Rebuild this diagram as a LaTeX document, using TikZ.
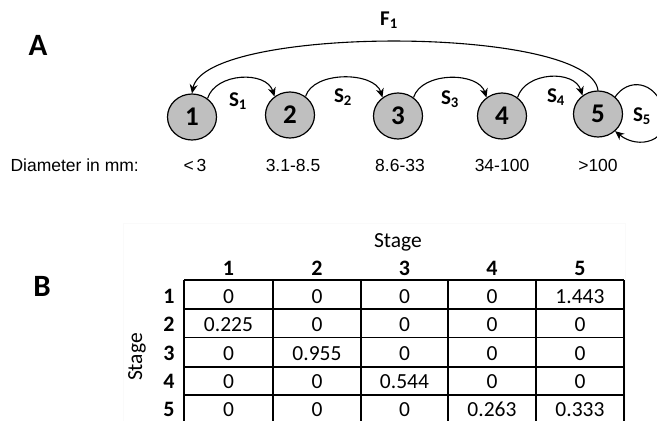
\documentclass[tikz,border=0pt]{standalone}
\usepackage{fontspec}
\setmainfont{Carlito}
\newfontfamily\arialf{Liberation Sans}
\usetikzlibrary{shapes.geometric,arrows.meta}
\tikzset{
  stagenode/.style={ellipse,draw=black,line width=1.2pt,fill=black!25,minimum width=49pt,minimum height=46pt,inner sep=0pt,font=\fontsize{27}{27}\selectfont\bfseries},
  arr/.style={line width=1.1pt,-{Stealth[length=9pt,width=8pt]}},
  slab/.style={font=\fontsize{21}{21}\selectfont\bfseries},
  diam/.style={font=\arialf\fontsize{17.5}{18}\selectfont},
  cell/.style={font=\fontsize{21.5}{22}\selectfont,anchor=base,inner sep=0pt},
  hdr/.style={font=\fontsize{22}{22}\selectfont\bfseries,anchor=base,inner sep=0pt},
  grid/.style={line width=1.4pt},
}
\begin{document}
\begin{tikzpicture}[x=1pt,y=-1pt]
\useasboundingbox (0,0) rectangle (657,421);
% panel A
\node[font=\fontsize{31}{31}\selectfont\bfseries] (lA) at (38,45) {A};
\node[stagenode] (n1) at (192,117) {1};
\node[stagenode] (n2) at (290,115) {2};
\node[stagenode] (n3) at (398,116) {3};
\node[stagenode] (n4) at (502,116) {4};
\node[stagenode] (n5) at (598,114) {5};
\draw[arr] (n1.50) .. controls +(8,-26) and +(-8,-26) .. (n2.130);
\draw[arr] (n2.50) .. controls +(8,-26) and +(-8,-26) .. (n3.130);
\draw[arr] (n3.50) .. controls +(8,-26) and +(-8,-26) .. (n4.130);
\draw[arr] (n4.50) .. controls +(8,-26) and +(-8,-26) .. (n5.130);
\draw[arr] (n5.north) .. controls (590,25) and (205,25) .. (n1.north);
\draw[arr] (n5.45) .. controls (628,78) and (655,80) .. (664,110) .. controls (672,142) and (638,150) .. (n5.-45);
\node[slab] (s1) at (238,101) {S$_{\mathbf 1}$};
\node[slab] (s2) at (343,97) {S$_{\mathbf 2}$};
\node[slab] (s3) at (450,99) {S$_{\mathbf 3}$};
\node[slab] (s4) at (556,97) {S$_{\mathbf 4}$};
\node[slab] (s5) at (642,116) {S$_{\mathbf 5}$};
\node[slab] (f1) at (389,20) {F$_{\mathbf 1}$};
\node[diam,anchor=west] (dlab) at (7,165) {Diameter in mm:};
\node[diam] (d1) at (195,165) {<\,3};
\node[diam] (d2) at (293,165) {3.1-8.5};
\node[diam] (d3) at (400,165) {8.6-33};
\node[diam] (d4) at (502,165) {34-100};
\node[diam] (d5) at (598,165) {>100};
% panel B
\node[font=\fontsize{31}{31}\selectfont\bfseries] (lB) at (42,286) {B};
\draw[black!2] (123,223) rectangle (625,440);
\node[cell] (stc) at (398,247) {Stage};
\node[font=\fontsize{21.5}{22}\selectfont,rotate=90] (str) at (137,357) {Stage};
\foreach \i/\x in {1/228.5,2/317,3/404.5,4/492,5/580} {
  \node[hdr] (c\i) at (\x,275) {\i};
}
\foreach \i/\y in {1/303,2/331,3/360,4/388.5,5/416.5} {
  \node[hdr] (r\i) at (169,\y) {\i};
}
\draw[grid] (184,280) -- (624,280);
\foreach \y in {309,337.5,367,395} { \draw[grid] (184,\y) -- (624,\y); }
\draw[grid] (624,280) -- (624,424) -- (184,424);
\foreach \x in {184,273,361,448,536,624} { \draw[grid] (\x,280) -- (\x,430); }
\foreach \r/\y/\a/\b/\c/\d/\e in {
  1/303/0/0/0/0/1.443,
  2/331/0.225/0/0/0/0,
  3/360/0/0.955/0/0/0,
  4/388.5/0/0/0.544/0/0,
  5/416.5/0/0/0/0.263/0.333} {
  \node[cell] (v\r a) at (228.5,\y) {\a};
  \node[cell] (v\r b) at (317,\y) {\b};
  \node[cell] (v\r c) at (404.5,\y) {\c};
  \node[cell] (v\r d) at (492,\y) {\d};
  \node[cell] (v\r e) at (580,\y) {\e};
}
\end{tikzpicture}
\end{document}
